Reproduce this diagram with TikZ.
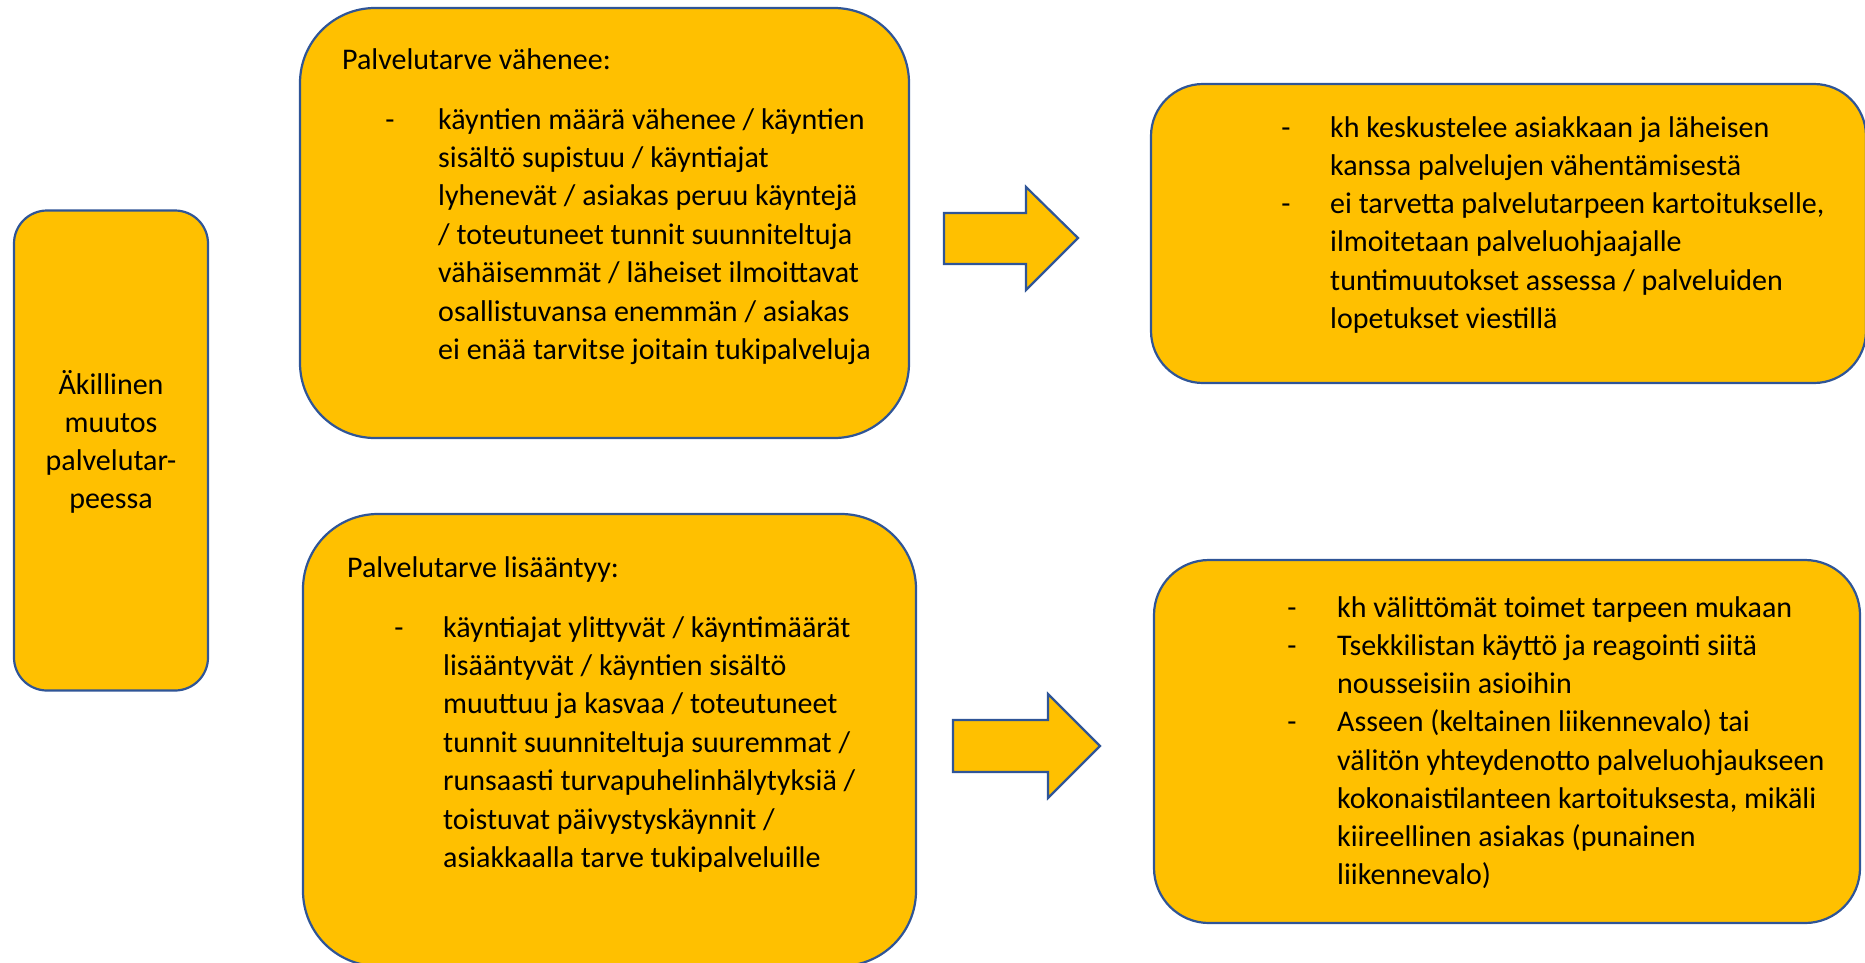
\documentclass[tikz,border=0pt]{standalone}
\usepackage{fontspec}
\setmainfont{Carlito}
\definecolor{gold}{HTML}{FFC000}
\definecolor{edge}{HTML}{2F5597}
\begin{document}
\begin{tikzpicture}[x=1pt,y=-1pt,
  box/.style={draw=edge,fill=gold,line width=2.2pt,inner sep=0pt},
  txt/.style={inner sep=0pt,font=\fontsize{30}{38.5}\selectfont},
  arr/.style={draw=edge,fill=gold,line width=2.2pt,line join=miter}]
\useasboundingbox (0,0) rectangle (1865,962);
% boxes
\node[box,minimum width=194pt,minimum height=480pt,rounded corners=33pt] (left) at (111,450.5) {};
\node[box,minimum width=609pt,minimum height=430pt,rounded corners=75pt] (topmid) at (604.5,223) {};
\node[box,minimum width=715pt,minimum height=299pt,rounded corners=52pt] (topright) at (1508.5,233.5) {};
\node[box,minimum width=613pt,minimum height=452pt,rounded corners=75pt] (botmid) at (609.5,740) {};
\node[box,minimum width=706pt,minimum height=363pt,rounded corners=55pt] (botright) at (1507,741.5) {};
% arrows
\coordinate (a1) at (944,238);
\coordinate (a2) at (953,746);
\draw[arr] (a1) ++(0,-25) -- ++(82,0) -- ++(0,-26) -- ++(52,51) -- ++(-52,52) -- ++(0,-26) -- ++(-82,0) -- cycle;
\draw[arr] (a2) ++(0,-26) -- ++(95,0) -- ++(0,-26) -- ++(52,52) -- ++(-52,52) -- ++(0,-26) -- ++(-95,0) -- cycle;
% left text
\foreach \t [count=\i from 0] in {Äkillinen,muutos,palvelutar-,peessa}
  \node[txt,anchor=base] (l\i) at (111,{394+38.2*\i}) {\t};
% top middle
\node[txt,anchor=base west] (tmtitle) at (342,69) {Palvelutarve vähenee:};
\node[txt,anchor=base] (tmb) at (390,129) {-};
\foreach \t [count=\i from 0] in {{käyntien määrä vähenee / käyntien},{sisältö supistuu / käyntiajat},{lyhenevät / asiakas peruu käyntejä},{/ toteutuneet tunnit suunniteltuja},{vähäisemmät / läheiset ilmoittavat},{osallistuvansa enemmän / asiakas},{ei enää tarvitse joitain tukipalveluja}}
  \node[txt,anchor=base west] (tm\i) at (438,{129+38.4*\i}) {\t};
% top right
\node[txt,anchor=base] (trb1) at (1286,137) {-};
\node[txt,anchor=base] (trb2) at (1286,213.5) {-};
\foreach \t [count=\i from 0] in {{kh keskustelee asiakkaan ja läheisen},{kanssa palvelujen vähentämisestä},{ei tarvetta palvelutarpeen kartoitukselle,},{ilmoitetaan palveluohjaajalle},{tuntimuutokset assessa / palveluiden},{lopetukset viestillä}}
  \node[txt,anchor=base west] (tr\i) at (1330,{137+38.25*\i}) {\t};
% bottom middle
\node[txt,anchor=base west] (bmtitle) at (347,577) {Palvelutarve lisääntyy:};
\node[txt,anchor=base] (bmb) at (399,637) {-};
\foreach \t [count=\i from 0] in {{käyntiajat ylittyvät / käyntimäärät},{lisääntyvät / käyntien sisältö},{muuttuu ja kasvaa / toteutuneet},{tunnit suunniteltuja suuremmat /},{runsaasti turvapuhelinhälytyksiä /},{toistuvat päivystyskäynnit /},{asiakkaalla tarve tukipalveluille}}
  \node[txt,anchor=base west] (bm\i) at (443,{637+38.4*\i}) {\t};
% bottom right
\node[txt,anchor=base] (brb1) at (1292,617) {-};
\node[txt,anchor=base] (brb2) at (1292,655.25) {-};
\node[txt,anchor=base] (brb3) at (1292,731.75) {-};
\foreach \t [count=\i from 0] in {{kh välittömät toimet tarpeen mukaan},{Tsekkilistan käyttö ja reagointi siitä},{nousseisiin asioihin},{Asseen (keltainen liikennevalo) tai},{välitön yhteydenotto palveluohjaukseen},{kokonaistilanteen kartoituksesta, mikäli},{kiireellinen asiakas (punainen},{liikennevalo)}}
  \node[txt,anchor=base west] (br\i) at (1337,{617+38.25*\i}) {\t};
\end{tikzpicture}
\end{document}
